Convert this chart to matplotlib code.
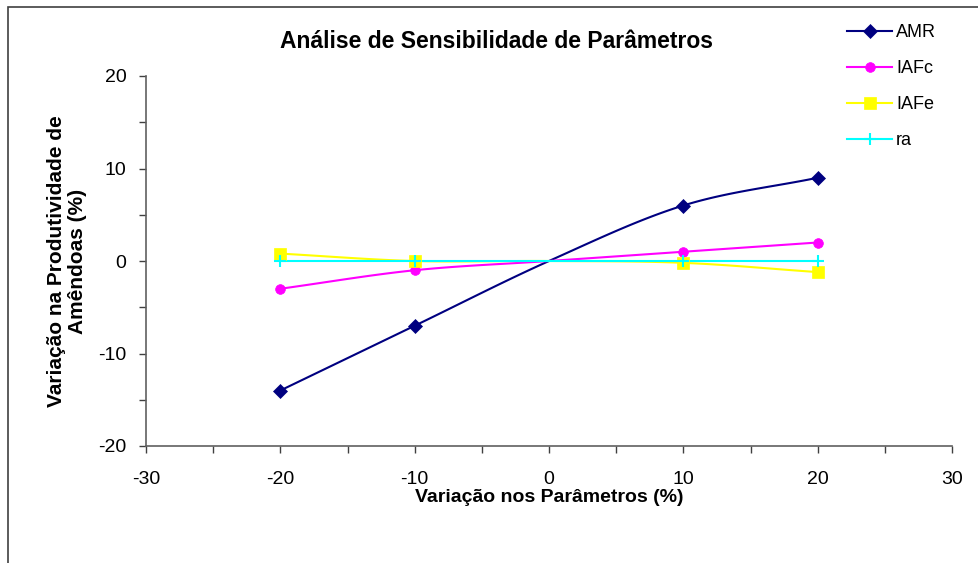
import numpy as np
import matplotlib.pyplot as plt
from matplotlib.ticker import MultipleLocator
from matplotlib.patches import Rectangle

plt.rcParams['font.family'] = ['Liberation Sans', 'DejaVu Sans']
plt.rcParams['axes.unicode_minus'] = False

# data
variacao = [-20, -10, 0, 10, 20]
amr = [-14, -7, 0, 6, 9]
iafc = [-3, -1, 0, 1, 2]
iafe = [0.8, 0, 0, -0.2, -1.2]
ra = [0, 0, 0, 0, 0]

series = [
    ('AMR', amr, '#000080', 'D', 7),
    ('IAFc', iafc, '#FF00FF', 'o', 7),
    ('IAFe', iafe, '#FFFF00', 's', 8),
    ('ra', ra, '#00FFFF', '+', 9),
]


def smooth(x, y, n=30):
    # Catmull-Rom style curve, like Excel's smoothed line
    x = np.asarray(x, float)
    y = np.asarray(y, float)
    px = np.concatenate([[2 * x[0] - x[1]], x, [2 * x[-1] - x[-2]]])
    py = np.concatenate([[2 * y[0] - y[1]], y, [2 * y[-1] - y[-2]]])
    xs, ys = [], []
    t = np.linspace(0, 1, n)
    for i in range(1, len(px) - 2):
        p0, p1, p2, p3 = [np.array([px[j], py[j]]) for j in range(i - 1, i + 3)]
        c1 = p1 + (p2 - p0) / 6
        c2 = p2 - (p3 - p1) / 6
        b = ((1 - t) ** 3)[:, None] * p1 + (3 * (1 - t) ** 2 * t)[:, None] * c1 \
            + (3 * (1 - t) * t ** 2)[:, None] * c2 + (t ** 3)[:, None] * p2
        xs.extend(b[:, 0])
        ys.extend(b[:, 1])
    return xs, ys


fig = plt.figure(figsize=(9.79, 5.63), dpi=100)
fig.patches.append(Rectangle((8 / 979, -0.1), 1.2, (563 - 7) / 563 + 0.1,
                             transform=fig.transFigure, fill=False,
                             edgecolor='#404040', linewidth=1.2))

ax = fig.add_axes([146 / 979, (563 - 446) / 563, (952 - 146) / 979, (446 - 76) / 563])

marked = [0, 1, 3, 4]
for name, vals, color, mk, ms in series:
    sx, sy = smooth(variacao, vals)
    ax.plot(sx, sy, color=color, linewidth=1.5, zorder=2)
    mx = [variacao[i] for i in marked]
    my = [vals[i] for i in marked]
    ax.plot(mx, my, linestyle='none', marker=mk, color=color, markersize=ms,
            markeredgewidth=1.5 if mk == '+' else 0.5, zorder=3)
    ax.plot([], [], color=color, marker=mk, markersize=ms, linewidth=1.5,
            markeredgewidth=1.5 if mk == '+' else 0.5, label=name)

ax.set_xlim(-30, 30)
ax.set_ylim(-20, 20)
ax.xaxis.set_major_locator(MultipleLocator(10))
ax.xaxis.set_minor_locator(MultipleLocator(5))
ax.yaxis.set_major_locator(MultipleLocator(10))
ax.yaxis.set_minor_locator(MultipleLocator(5))
ax.tick_params(which='both', length=5, width=1, color='#404040', labelsize=14)
ax.tick_params(axis='x', pad=13)
ax.tick_params(axis='y', pad=9)
for s in ['top', 'right']:
    ax.spines[s].set_visible(False)
for s in ['left', 'bottom']:
    ax.spines[s].set_color('#606060')
    ax.spines[s].set_linewidth(1.2)

fig.text(496 / 979, 1 - 41 / 563, 'Análise de Sensibilidade de Parâmetros',
         ha='center', va='center', fontsize=16.5, fontweight='bold')
fig.text(549 / 979, 1 - 497 / 563, 'Variação nos Parâmetros (%)',
         ha='center', va='center', fontsize=14, fontweight='bold')
fig.text(67 / 979, 1 - 261 / 563, 'Variação na Produtividade de\nAmêndoas (%)',
         ha='center', va='center', fontsize=15, fontweight='bold', rotation=90,
         linespacing=1.15)

fig.legend(loc='upper left', bbox_to_anchor=(831 / 979, 1 - 8 / 563),
           frameon=False, fontsize=13, handlelength=2.5, handletextpad=0.2,
           labelspacing=1.05)

fig.savefig('out.png', dpi=100)
